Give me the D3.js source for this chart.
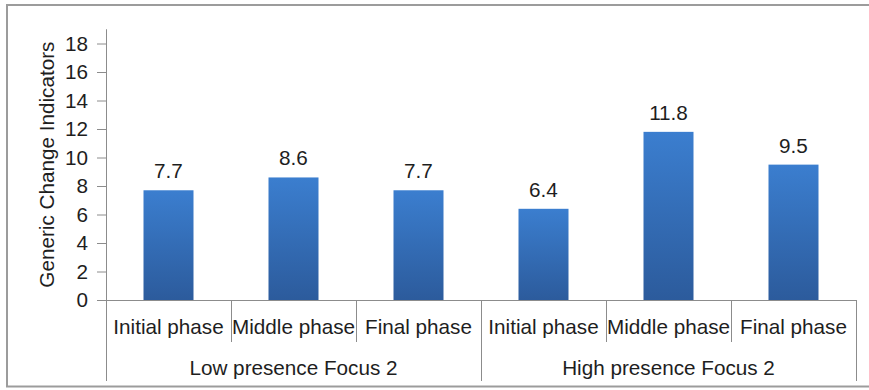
<!DOCTYPE html>
<html>
<head>
<meta charset="utf-8">
<script src="https://cdn.jsdelivr.net/npm/d3@7"></script>
<style>
  html, body { margin: 0; padding: 0; background: #fff; }
  svg { display: block; }
  text { font-family: "Liberation Sans", Arial, sans-serif; fill: #1e1e1e; }
</style>
</head>
<body>
<svg id="chart" width="869" height="390"></svg>
<script>
const groups = ["Low presence Focus 2", "High presence Focus 2"];
const phases = ["Initial phase", "Middle phase", "Final phase"];
const lowValues = [7.7, 8.6, 7.7];
const highValues = [6.4, 11.8, 9.5];
const yTicks = [0, 2, 4, 6, 8, 10, 12, 14, 16, 18];
const yTitle = "Generic Change Indicators";

const seriesByGroup = [lowValues, highValues];
const rows = [];
groups.forEach((g, gi) => phases.forEach((p, pi) => rows.push({ key: gi + "-" + pi, group: g, gi, phase: p, value: seriesByGroup[gi][pi] })));

const svg = d3.select("#chart");
const plotLeft = 106, plotRight = 856, plotTop = 29.25, plotBottom = 300;
const fontSize = 20.7;

// frame
svg.append("rect").attr("x", 7).attr("y", 5).attr("width", 900).attr("height", 381.5)
  .attr("fill", "none").attr("stroke", "#9c9c9c").attr("stroke-width", 2);

const x = d3.scaleBand().domain(rows.map(d => d.key)).range([plotLeft, plotRight]).padding(0);
const xg = d3.scaleBand().domain(groups).range([plotLeft, plotRight]).padding(0);
const y = d3.scaleLinear().domain([0, 19]).range([plotBottom, plotTop]);

// gradient
const defs = svg.append("defs");
const grad = defs.append("linearGradient").attr("id", "barGrad").attr("x1", 0).attr("y1", 0).attr("x2", 0).attr("y2", 1);
grad.append("stop").attr("offset", "0%").attr("stop-color", "#3b7ecf");
grad.append("stop").attr("offset", "100%").attr("stop-color", "#2c5b9c");

// y axis
const yAxis = d3.axisLeft(y).tickValues(yTicks).tickSize(9).tickPadding(9).tickFormat(d3.format("d"));
const gy = svg.append("g").attr("transform", `translate(${plotLeft},0)`).call(yAxis);
gy.select(".domain").remove();
gy.selectAll(".tick line").attr("stroke", "#8c8c8c");
gy.selectAll(".tick text").style("font-size", fontSize + "px").style("font-family", "Liberation Sans, Arial, sans-serif").attr("fill", "#1e1e1e");
svg.append("line").attr("x1", plotLeft + 0.5).attr("x2", plotLeft + 0.5).attr("y1", plotTop).attr("y2", 381).attr("stroke", "#8c8c8c");

// baseline
svg.append("line").attr("x1", plotLeft).attr("x2", plotRight).attr("y1", plotBottom + 0.5).attr("y2", plotBottom + 0.5).attr("stroke", "#8c8c8c");

// bars
const bw = x.bandwidth();
svg.selectAll("rect.bar").data(rows).join("rect").attr("class", "bar")
  .attr("x", d => x(d.key) + bw * 0.3)
  .attr("width", bw * 0.4)
  .attr("y", d => y(d.value))
  .attr("height", d => y(0) - y(d.value))
  .attr("fill", "url(#barGrad)");

// value labels
svg.selectAll("text.val").data(rows).join("text").attr("class", "val")
  .attr("x", d => x(d.key) + bw / 2)
  .attr("y", d => y(d.value) - 12)
  .attr("text-anchor", "middle")
  .style("font-size", fontSize + "px")
  .text(d => d.value.toFixed(1));

// category separators
rows.forEach((d, i) => {
  if (i === 0) return;
  const xx = Math.round(x(d.key)) + 0.5;
  const isGroupStart = d.key.endsWith("-0");
  svg.append("line").attr("x1", xx).attr("x2", xx).attr("y1", plotBottom).attr("y2", isGroupStart ? 381 : 342).attr("stroke", "#8c8c8c");
});
svg.append("line").attr("x1", plotRight + 0.5).attr("x2", plotRight + 0.5).attr("y1", plotBottom).attr("y2", 381).attr("stroke", "#8c8c8c");

// category labels
svg.selectAll("text.cat").data(rows).join("text").attr("class", "cat")
  .attr("x", d => x(d.key) + bw / 2)
  .attr("y", 327)
  .attr("dy", "0.35em")
  .attr("text-anchor", "middle")
  .style("font-size", fontSize + "px")
  .text(d => d.phase);

// group labels
svg.selectAll("text.grp").data(groups).join("text").attr("class", "grp")
  .attr("x", d => xg(d) + xg.bandwidth() / 2)
  .attr("y", 368)
  .attr("dy", "0.35em")
  .attr("text-anchor", "middle")
  .style("font-size", fontSize + "px")
  .text(d => d);

// y title
svg.append("text")
  .attr("transform", `translate(47,${(plotBottom + plotTop) / 2}) rotate(-90)`)
  .attr("text-anchor", "middle")
  .attr("dy", "0.35em")
  .style("font-size", fontSize + "px")
  .text(yTitle);
</script>
</body>
</html>
